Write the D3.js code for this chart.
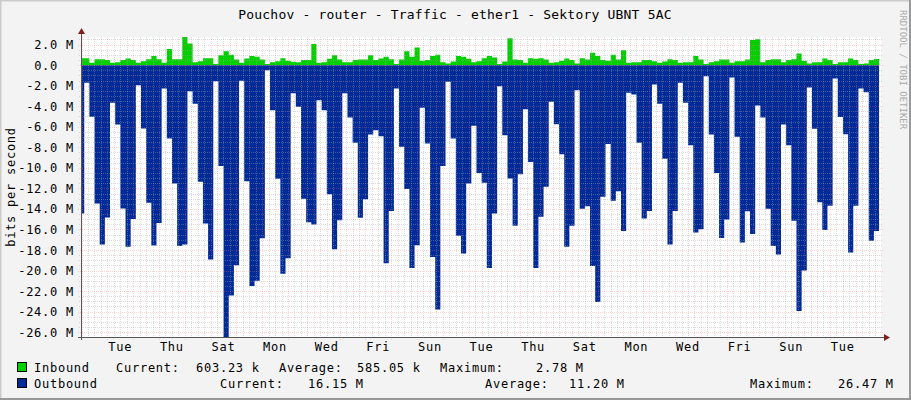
<!DOCTYPE html>
<meta charset="utf-8">
<head>
<style>
body { margin: 0; background: #f3f3f3; }
svg { display: block; }
svg text { font-family: "DejaVu Sans Mono", monospace; white-space: pre; fill: #000; }
.tick-label { font-size: 12px; letter-spacing: 0.75px; }
.legend { font-size: 12px; letter-spacing: 0.75px; }
.title { font-size: 13px; letter-spacing: 0.2px; }
.grid-minor { stroke: #a8a8a8; stroke-opacity: 0.4; stroke-dasharray: 1,1; shape-rendering: crispEdges; }
.grid-major { stroke: #ff7070; stroke-opacity: 0.3; stroke-dasharray: 1,1; shape-rendering: crispEdges; }
.axis-line { stroke: #555; stroke-width: 1; shape-rendering: crispEdges; }
</style>
</head>
<body>
<svg width="911" height="400"></svg>
<script src="https://cdnjs.cloudflare.com/ajax/libs/d3/7.8.5/d3.min.js"></script>
<script>

// Mbit/s, one value per 4.8 h step, first step ends 02:30 Monday
var inbound = [
  0.68, 0.68, 0.23, 0.58, 0.58, 0.49, 0.23, 0.29, 0.49, 0.65,
  0.49, 0.23, 0.39, 0.58, 0.88, 0.58, 0.23, 1.56, 0.58, 0.58,
  2.78, 2.11, 0.29, 0.39, 0.68, 0.68, 0.10, 0.97, 1.36, 1.00,
  0.55, 0.23, 0.65, 0.88, 0.81, 0.55, 0.10, 0.29, 0.39, 0.68,
  0.42, 0.32, 0.29, 0.49, 0.49, 2.05, 0.23, 0.29, 0.62, 0.97,
  0.55, 0.29, 0.29, 0.49, 0.55, 0.55, 0.97, 0.49, 0.65, 0.81,
  0.58, 0.10, 0.55, 1.36, 0.81, 1.72, 0.42, 0.49, 0.88, 1.00,
  0.29, 0.16, 0.36, 0.88, 0.81, 0.62, 0.29, 0.39, 0.68, 0.88,
  0.75, 0.10, 0.36, 2.63, 0.55, 0.49, 0.23, 0.68, 0.62, 0.68,
  0.55, 0.23, 0.29, 0.42, 0.65, 0.49, 0.16, 0.68, 0.55, 1.20,
  0.88, 0.49, 0.42, 1.00, 0.55, 1.46, 0.23, 0.29, 0.29, 0.49,
  0.49, 0.39, 0.23, 0.36, 0.58, 0.49, 0.23, 0.29, 0.29, 0.88,
  0.55, 0.10, 0.29, 0.39, 0.55, 0.55, 0.23, 0.39, 0.39, 0.55,
  2.44, 2.53, 0.29, 0.49, 0.58, 0.58, 0.29, 0.49, 0.58, 1.14,
  0.42, 0.16, 0.29, 0.29, 0.65, 0.49, 0.10, 0.29, 0.29, 0.65,
  0.49, 0.10, 0.16, 0.49, 0.60
];

var outbound = [
  14.45, 1.72, 5.03, 13.47, 17.47, 14.84, 3.67, 5.78, 13.96, 17.69,
  14.97, 1.95, 6.17, 13.41, 17.56, 15.36, 2.27, 7.14, 11.53, 17.60,
  17.47, 2.53, 3.77, 11.36, 15.42, 18.93, 1.56, 9.81, 26.47, 22.43,
  19.48, 1.53, 11.30, 21.50, 21.00, 16.85, 0.49, 4.38, 11.07, 20.30,
  18.80, 2.73, 4.06, 13.02, 15.29, 15.52, 3.41, 4.38, 12.56, 17.92,
  15.10, 2.73, 5.10, 7.56, 14.87, 13.05, 6.75, 6.33, 6.92, 19.30,
  14.19, 2.27, 7.95, 12.05, 19.74, 17.53, 4.16, 7.63, 18.67, 23.80,
  9.81, 1.62, 7.14, 16.62, 18.34, 11.53, 5.91, 10.49, 11.46, 19.74,
  14.45, 2.05, 6.82, 11.04, 15.65, 10.62, 4.29, 9.42, 19.74, 14.77,
  11.85, 3.57, 5.75, 8.67, 17.69, 15.65, 2.44, 13.99, 13.73, 19.55,
  23.05, 12.82, 7.69, 13.21, 12.27, 16.14, 2.69, 2.86, 7.56, 14.94,
  14.19, 1.88, 3.77, 9.12, 17.47, 14.19, 1.72, 3.67, 7.79, 16.30,
  15.97, 1.07, 6.75, 10.49, 16.82, 15.03, 1.20, 6.98, 17.27, 14.22,
  16.43, 3.93, 5.10, 13.99, 17.60, 18.44, 5.78, 7.79, 15.16, 23.93,
  20.00, 2.18, 6.20, 13.34, 16.04, 13.70, 1.30, 5.06, 6.72, 18.25,
  13.70, 2.27, 2.63, 17.11, 16.15
];

var dayLabels = ["Tue", "Thu", "Sat", "Mon", "Wed", "Fri", "Sun", "Tue",
                 "Thu", "Sat", "Mon", "Wed", "Fri", "Sun", "Tue"];
var labelDays = [1, 3, 5, 7, 9, 11, 13, 15, 17, 19, 21, 23, 25, 27, 29];

var yTicks = [2, 0, -2, -4, -6, -8, -10, -12, -14, -16, -18, -20, -22, -24, -26];

var legendIn = ["Inbound", "Current:", "603.23 k", "Average:", "585.05 k", "Maximum:", "2.78 M"];
var legendOut = ["Outbound", "Current:", "16.15 M", "Average:", "11.20 M", "Maximum:", "26.47 M"];

var titleText = "Pouchov - router - Traffic - ether1 - Sektory UBNT 5AC";

var colorIn = "#00cf00", colorOut = "#002a97";

var svg = d3.select("svg");

var t0 = -0.5, t1 = 743.5, step = 4.8, firstEdge = 2.5;

var x = d3.scaleLinear().domain([t0, t1]).range([81, 881]);
var y = d3.scaleLinear().domain([-26.47, 2.74]).range([337, 37]);

// frame
svg.append("rect").attr("x", 0).attr("y", 0).attr("width", 911).attr("height", 400).attr("fill", "#f3f3f3");
svg.append("path").attr("d", "M0,400V0H911").attr("fill", "none").attr("stroke", "#cbcbcb").attr("stroke-width", 3);
svg.append("path").attr("d", "M0,399H910V0").attr("fill", "none").attr("stroke", "#999").attr("stroke-width", 2);

svg.append("defs").append("clipPath").attr("id", "clip")
  .append("rect").attr("x", 81).attr("y", 37).attr("width", 800).attr("height", 300);

svg.append("rect")
  .attr("x", x(t0)).attr("y", y(2.74))
  .attr("width", x(t1) - x(t0)).attr("height", y(-26.47) - y(2.74))
  .attr("fill", "#fff");

function series(vals, sign) {
  var pts = vals.map(function(v, i) {
    return { t: Math.max(t0, firstEdge + step * (i - 1)), v: sign * v };
  });
  pts.push({ t: firstEdge + step * (vals.length - 1), v: sign * vals[vals.length - 1] });
  return pts;
}

var area = d3.area()
  .curve(d3.curveStepAfter)
  .x(function(d) { return x(d.t); })
  .y0(y(0))
  .y1(function(d) { return y(d.v); });

var plot = svg.append("g").attr("clip-path", "url(#clip)");
plot.append("path").datum(series(inbound, 1)).attr("fill", colorIn).attr("d", area);
plot.append("path").datum(series(outbound, -1)).attr("fill", colorOut).attr("d", area);

// grid
var grid = svg.append("g");
var minorY = d3.range(-26, 2.51, 0.5).filter(function(v) { return v % 2 !== 0; });
grid.selectAll(".hmin").data(minorY).enter().append("line")
  .attr("class", "grid-minor")
  .attr("x1", 79).attr("x2", 883)
  .attr("y1", function(d) { return Math.round(y(d)) + 0.5; })
  .attr("y2", function(d) { return Math.round(y(d)) + 0.5; });
grid.selectAll(".hmaj").data(yTicks).enter().append("line")
  .attr("class", "grid-major")
  .attr("x1", 78).attr("x2", 883)
  .attr("y1", function(d) { return Math.round(y(d)) + 0.5; })
  .attr("y2", function(d) { return Math.round(y(d)) + 0.5; });

var minorX = d3.range(0, t1, 6).filter(function(h) { return h % 24 !== 0; });
var majorX = d3.range(0, t1, 24);
grid.selectAll(".vmin").data(minorX).enter().append("line")
  .attr("class", "grid-minor")
  .attr("y1", 37).attr("y2", 339)
  .attr("x1", function(d) { return Math.round(x(d)) + 0.5; })
  .attr("x2", function(d) { return Math.round(x(d)) + 0.5; });
grid.selectAll(".vmaj").data(majorX).enter().append("line")
  .attr("class", "grid-major")
  .attr("y1", 37).attr("y2", 340)
  .attr("x1", function(d) { return Math.round(x(d)) + 0.5; })
  .attr("x2", function(d) { return Math.round(x(d)) + 0.5; });

// axes
svg.append("line").attr("class", "axis-line")
  .attr("x1", 78).attr("x2", 885).attr("y1", Math.round(y(-26.47)) + 0.5).attr("y2", Math.round(y(-26.47)) + 0.5);
svg.append("line").attr("class", "axis-line")
  .attr("x1", 81.5).attr("x2", 81.5).attr("y1", 340).attr("y2", 33);
svg.append("path").attr("fill", "#7f1f1f").attr("d", "M884,334L890,337.5L884,341Z");
svg.append("path").attr("fill", "#7f1f1f").attr("d", "M78,34L81.5,28L85,34Z");

// y tick labels
svg.selectAll(".ylab").data(yTicks).enter().append("text")
  .attr("class", "tick-label")
  .attr("x", 74).attr("y", function(d) { return y(d) + 4.5; })
  .attr("text-anchor", "end")
  .text(function(d) { return d === 0 ? "0.0  " : d3.format(".1f")(d).replace("\u2212", "-") + " M"; });

// x labels
svg.selectAll(".xlab").data(labelDays).enter().append("text")
  .attr("class", "tick-label")
  .attr("x", function(d) { return x(d * 24 + 12); })
  .attr("y", 351)
  .attr("text-anchor", "middle")
  .text(function(d, i) { return dayLabels[i]; });

// title
svg.append("text").attr("class", "title")
  .attr("x", 455).attr("y", 19).attr("text-anchor", "middle")
  .text(titleText);

// y axis title
svg.append("text").attr("class", "tick-label")
  .attr("transform", "translate(15,187) rotate(-90)")
  .attr("text-anchor", "middle")
  .text("bits per second");

// watermark
svg.append("text")
  .attr("transform", "translate(900,10) rotate(90)")
  .style("font-size", "9px").style("fill", "#aaa")
  .text("RRDTOOL / TOBI OETIKER");

// legend
var inX = [34, 116, 196, 279, 357, 440, 536];
var outX = [34, 220, 308, 485, 569, 750, 838];
function legendRow(items, xs, yy, color) {
  svg.append("rect").attr("x", 17.5).attr("y", yy - 9.5).attr("width", 9).attr("height", 9)
    .attr("fill", color).attr("stroke", "#000");
  items.forEach(function(s, i) {
    svg.append("text").attr("class", "legend").attr("x", xs[i]).attr("y", yy).text(s);
  });
}
legendRow(legendIn, inX, 372, colorIn);
legendRow(legendOut, outX, 388, colorOut);

</script>
</body>
